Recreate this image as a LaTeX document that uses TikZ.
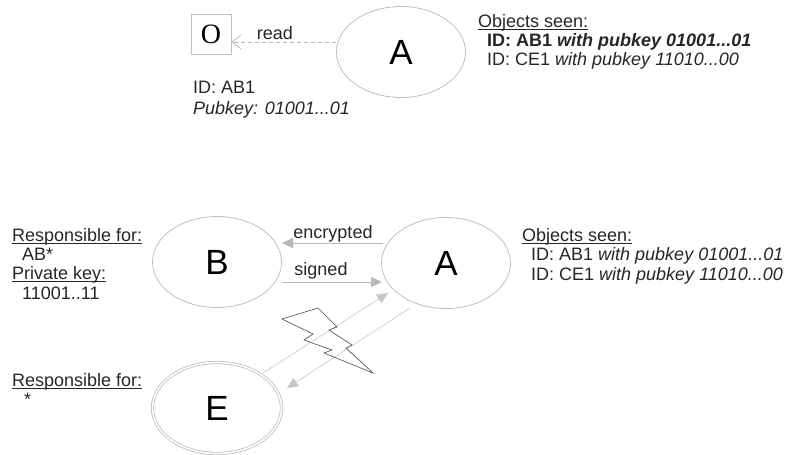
\documentclass[tikz,border=0pt]{standalone}
\usepackage{fontspec}
\setmainfont{Liberation Sans}
\newfontfamily\serifletter{Liberation Serif}
\usetikzlibrary{shapes.geometric,arrows.meta,calc}
% underline sitting just below the baseline
\newcommand\ulin[1]{\setbox0=\hbox{#1}\rlap{\rule[-2.4pt]{\wd0}{0.8pt}}\box0}
\begin{document}
\begin{tikzpicture}[x=1pt,y=-1pt,
  every node/.style={font=\fontsize{18}{19}\selectfont, text=black!85},
  blob/.style={ellipse, draw=black!25, line width=0.8pt, minimum width=129pt,
    minimum height=91pt, inner sep=0pt, text=black, font=\fontsize{35}{38}\selectfont},
  flow/.style={draw=black!28, line width=0.8pt, -{Triangle[length=11pt,width=10pt]}},
  info/.style={anchor=north west, align=left, inner sep=0pt},
  lbl/.style={inner sep=0pt}
]
\useasboundingbox (0,0) rectangle (790,455);

% object O and agent A (top)
\node[draw=black!25, line width=0.8pt, minimum width=40pt, minimum height=40pt,
  inner sep=0pt, text=black, font=\serifletter\fontsize{28}{29}\selectfont] (O) at (211,34) {O};
\node[blob] (A1) at (401,52) {A};
\coordinate (r1) at ($(A1.west)+(0,-10)$);
\draw[draw=black!28, line width=0.8pt, dash pattern=on 4pt off 3pt,
  -{Straight Barb[length=9pt,width=14pt]}] (r1) -- (r1 -| O.east);
\node[lbl] (readlbl) at (275,33) {read};

\node[info] (Oinfo) at (193,81) {ID: AB1\\[2pt]\textit{Pubkey: 01001...01}};
\node[info] (seen1) at (478,14) {\ulin{Objects seen:}\\
  \hspace*{9pt}\textbf{ID: AB1 \textit{with pubkey 01001...01}}\\
  \hspace*{9pt}ID: CE1 \textit{with pubkey 11010...00}};

% agents B, A, E (bottom)
\node[blob] (B) at (217,262) {B};
\node[blob] (A2) at (446,263) {A};
\node[blob, double=white, double distance=1.6pt] (E) at (217,408) {E};

\draw[flow] ($(A2)+(-63,-20)$) -- ($(B)+(65,-19)$);
\draw[flow] ($(B)+(65,20)$) -- ($(A2)+(-64,19)$);
\node[lbl] (enc) at (333,234) {encrypted};
\node[lbl] (sig) at (321,271) {signed};

\draw[flow, draw=black!22, line width=0.6pt] ($(E)+(46,-35)$) -- ($(A2)+(-58,30)$);
\draw[flow, draw=black!22, line width=0.6pt] ($(A2)+(-36,45)$) -- ($(E)+(70,-20)$);

% lightning bolt
\draw[black!70, line width=0.6pt, line join=miter]
  (282,319) -- (318,308) -- (337,327) -- (329,330) -- (352,345) -- (346,348)
  -- (373,373) -- (324,353) -- (332,350) -- (304,340) -- (313,334) -- cycle;

\node[info] (Binfo) at (12,228) {\ulin{Responsible for:}\\
  \hspace*{10pt}AB*\\ \ulin{Private key:}\\[1pt] \hspace*{10pt}11001..11};
\node[info] (Einfo) at (12,373) {\ulin{Responsible for:}\\ \hspace*{12pt}*};
\node[info] (seen2) at (522,228) {\ulin{Objects seen:}\\
  \hspace*{9pt}ID: AB1 \textit{with pubkey 01001...01}\\[1pt]
  \hspace*{9pt}ID: CE1 \textit{with pubkey 11010...00}};
\end{tikzpicture}
\end{document}
